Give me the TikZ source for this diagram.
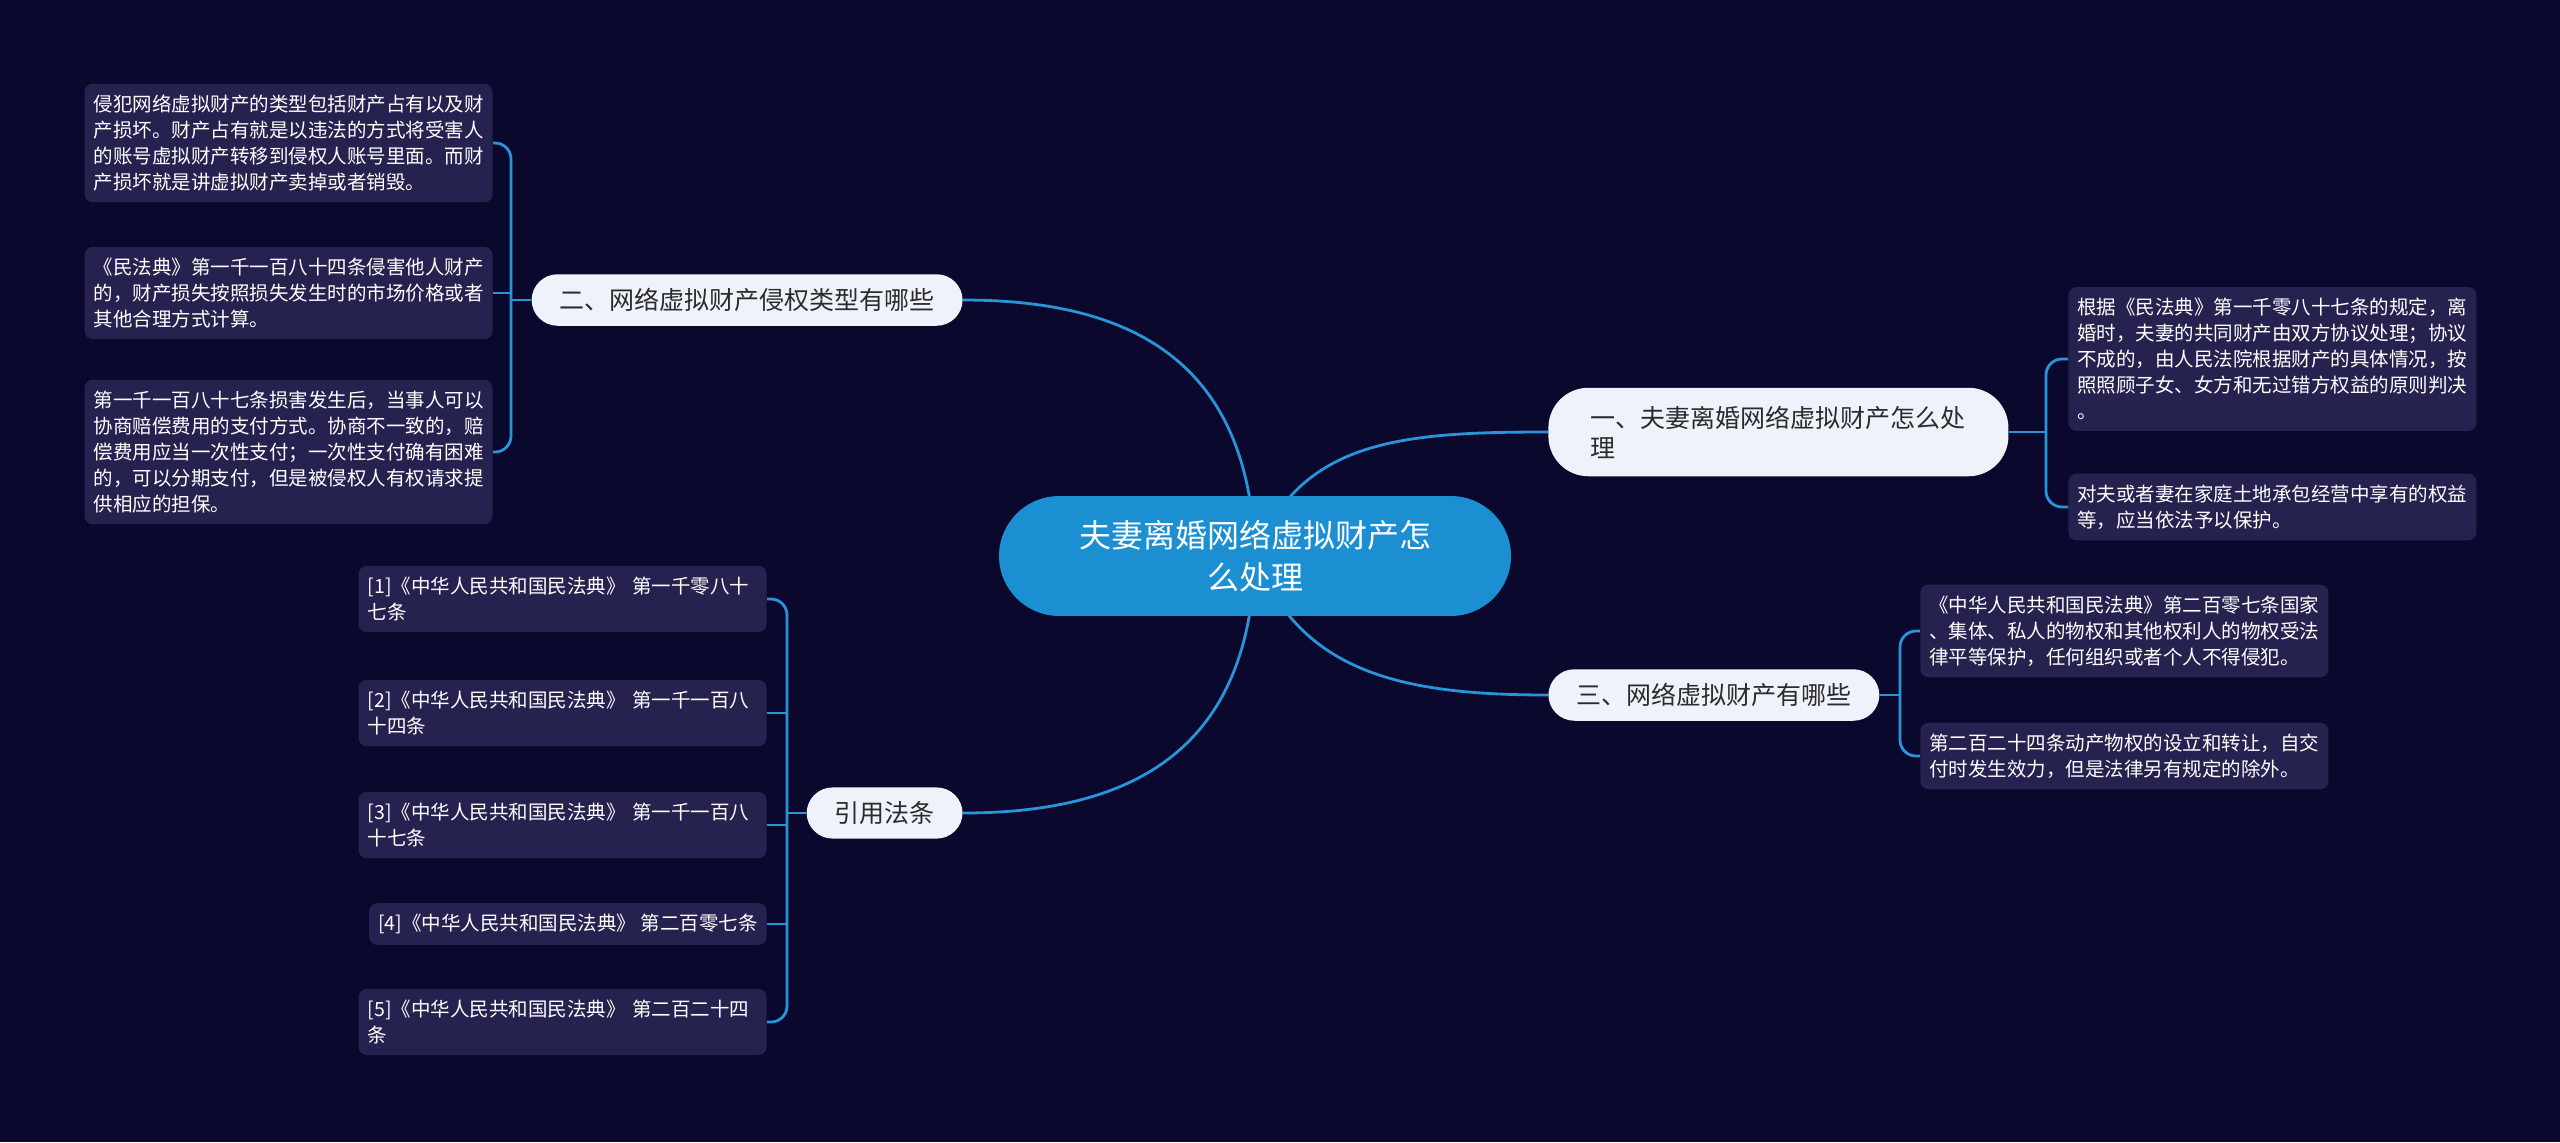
\documentclass[tikz,border=0pt]{standalone}
\usepackage{fontspec}
\setmainfont{Noto Sans CJK SC}
\usetikzlibrary{backgrounds}

\definecolor{bgnavy}{RGB}{11,8,46}
\definecolor{rootblue}{RGB}{27,143,209}
\definecolor{topicfill}{RGB}{238,243,251}
\definecolor{topictext}{RGB}{43,43,43}
\definecolor{leaffill}{RGB}{38,34,80}
\definecolor{linkblue}{RGB}{40,148,218}

\begin{document}
\begin{tikzpicture}[x=0.5pt,y=-0.5pt,
  root/.style={fill=rootblue, text=white, rounded corners=30pt, inner xsep=40pt, inner ysep=12pt, align=center, font=\fontsize{16pt}{21pt}\selectfont},
  topic/.style={fill=topicfill, text=topictext, rounded corners=13pt, inner xsep=14pt, inner ysep=7pt, font=\fontsize{12.5pt}{15pt}\selectfont},
  leaf/.style={fill=leaffill, text=white, rounded corners=4pt, inner xsep=4.5pt, inner ysep=5.5pt, align=left, font=\fontsize{9.75pt}{13pt}\selectfont},
  lawbox/.style={leaf, text width=195pt},
  link/.style={draw=linkblue, line width=1.4pt}]
\useasboundingbox (0,0) rectangle (2560,1142);
% Centre
\node[root] (main) at (1255,556) {夫妻离婚网络虚拟财产怎\\么处理};
% Topics
\node[topic, anchor=east] (infringe) at (963,300) {二、网络虚拟财产侵权类型有哪些};
\node[topic, anchor=west, align=left, text width=188pt, inner xsep=21pt, inner ysep=9pt, rounded corners=20pt] (handle) at (1548,432) {一、夫妻离婚网络虚拟财产怎么处\\理};
\node[topic, anchor=west] (kinds) at (1548,695) {三、网络虚拟财产有哪些};
\node[topic, anchor=east] (cite) at (963,813) {引用法条};
% Leaves of 二
\node[leaf, anchor=east] (harm1) at (493,143) {侵犯网络虚拟财产的类型包括财产占有以及财\\产损坏。财产占有就是以违法的方式将受害人\\的账号虚拟财产转移到侵权人账号里面。而财\\产损坏就是讲虚拟财产卖掉或者销毁。};
\node[leaf, anchor=east] (harm2) at (493,293) {《民法典》第一千一百八十四条侵害他人财产\\的，财产损失按照损失发生时的市场价格或者\\其他合理方式计算。};
\node[leaf, anchor=east] (harm3) at (493,452) {第一千一百八十七条损害发生后，当事人可以\\协商赔偿费用的支付方式。协商不一致的，赔\\偿费用应当一次性支付；一次性支付确有困难\\的，可以分期支付，但是被侵权人有权请求提\\供相应的担保。};
% Leaves of 一
\node[leaf, anchor=west] (rule1) at (2068,359) {根据《民法典》第一千零八十七条的规定，离\\婚时，夫妻的共同财产由双方协议处理；协议\\不成的，由人民法院根据财产的具体情况，按\\照照顾子女、女方和无过错方权益的原则判决\\。};
\node[leaf, anchor=west] (rule2) at (2068,507) {对夫或者妻在家庭土地承包经营中享有的权益\\等，应当依法予以保护。};
% Leaves of 三
\node[leaf, anchor=west] (kind1) at (1920,631) {《中华人民共和国民法典》第二百零七条国家\\、集体、私人的物权和其他权利人的物权受法\\律平等保护，任何组织或者个人不得侵犯。};
\node[leaf, anchor=west] (kind2) at (1920,756) {第二百二十四条动产物权的设立和转让，自交\\付时发生效力，但是法律另有规定的除外。};
% Leaves of 引用法条
\node[lawbox, anchor=east] (law1) at (767,599) {[1]《中华人民共和国民法典》 第一千零八十\\七条};
\node[lawbox, anchor=east] (law2) at (767,713) {[2]《中华人民共和国民法典》 第一千一百八\\十四条};
\node[lawbox, anchor=east] (law3) at (767,825) {[3]《中华人民共和国民法典》 第一千一百八\\十七条};
\node[leaf, anchor=east] (law4) at (767,924) {[4]《中华人民共和国民法典》 第二百零七条};
\node[lawbox, anchor=east] (law5) at (767,1022) {[5]《中华人民共和国民法典》 第二百二十四\\条};
% Background and main curves
\begin{scope}[on background layer]
\fill[bgnavy] (0,0) rectangle (2560,1142);
\draw[link] (main.center) .. controls (1250,360) and (1130,300) .. (infringe.east);
\draw[link] (main.center) .. controls (1300,440) and (1400,432) .. (handle.west);
\draw[link] (main.center) .. controls (1300,672) and (1400,695) .. (kinds.west);
\draw[link] (main.center) .. controls (1250,752) and (1130,813) .. (cite.east);
\end{scope}
% Brackets
\coordinate (j2) at (511,300);
\draw[link] (infringe.west) -- (j2);
\draw[link, rounded corners=8pt] (j2) |- (harm1.east);
\draw[link] (j2) |- (harm2.east);
\draw[link, rounded corners=8pt] (j2) |- (harm3.east);
\coordinate (j1) at (2046,432);
\draw[link] (handle.east) -- (j1);
\draw[link, rounded corners=8pt] (j1) |- (rule1.west);
\draw[link, rounded corners=8pt] (j1) |- (rule2.west);
\coordinate (j3) at (1900,695);
\draw[link] (kinds.east) -- (j3);
\draw[link, rounded corners=8pt] (j3) |- (kind1.west);
\draw[link, rounded corners=8pt] (j3) |- (kind2.west);
\coordinate (j4) at (787,813);
\draw[link] (cite.west) -- (j4);
\draw[link, rounded corners=8pt] (j4) |- (law1.east);
\draw[link] (j4) |- (law2.east);
\draw[link] (j4) |- (law3.east);
\draw[link] (j4) |- (law4.east);
\draw[link, rounded corners=8pt] (j4) |- (law5.east);
\end{tikzpicture}
\end{document}
